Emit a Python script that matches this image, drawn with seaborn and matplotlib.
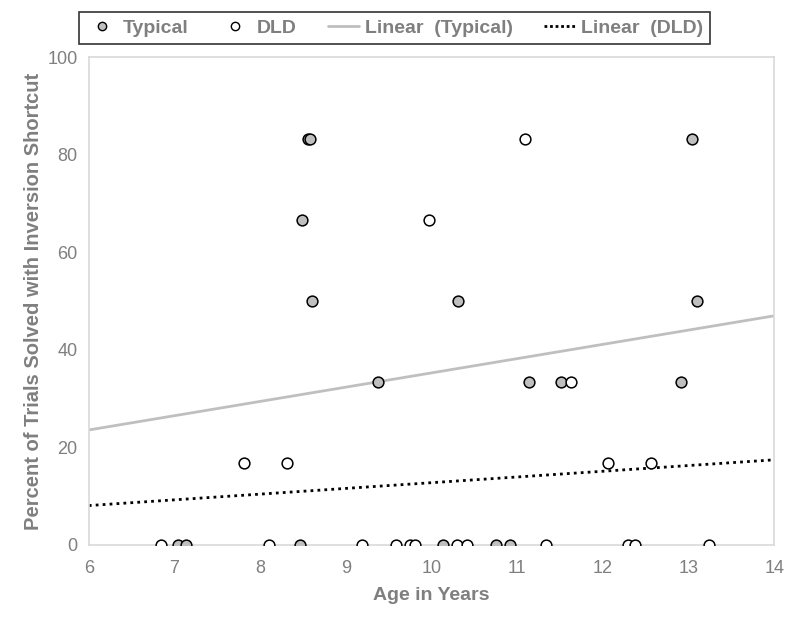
import numpy as np
import pandas as pd
import matplotlib
matplotlib.use("Agg")
import matplotlib.pyplot as plt
import seaborn as sns
from matplotlib.lines import Line2D

# ─────────────────────────────────────────────
# Data
# ─────────────────────────────────────────────
typical_age = [7.04, 7.14, 8.47, 10.13, 10.75, 10.92,
               8.56, 8.58, 13.04,
               8.49,
               8.60, 10.31, 13.10,
               9.38, 11.14, 11.51, 12.91]
typical_pct = [0, 0, 0, 0, 0, 0,
               83.3, 83.3, 83.3,
               66.7,
               50, 50, 50,
               33.3, 33.3, 33.3, 33.3]

dld_age = [6.84, 8.10, 9.19, 9.58, 9.75, 9.81, 10.30, 10.41, 11.34, 12.29, 12.37, 13.24,
           7.81, 8.31, 12.06, 12.56,
           11.63,
           9.97,
           11.09]
dld_pct = [0] * 12 + [16.7] * 4 + [33.3, 66.7, 83.3]

x_ticks = [6, 7, 8, 9, 10, 11, 12, 13, 14]
y_ticks = [0, 20, 40, 60, 80, 100]

typical = pd.DataFrame({"age": typical_age, "pct": typical_pct})
dld = pd.DataFrame({"age": dld_age, "pct": dld_pct})

GRAY_TXT = "#7f7f7f"
FILL = "#bfbfbf"

sns.set_style("white")
plt.rcParams["font.family"] = ["Liberation Sans", "DejaVu Sans"]

fig = plt.figure(figsize=(8, 6.22), dpi=100)
ax = fig.add_axes([0.111, 0.124, 0.857, 0.784])
ax.set_xlim(6, 14)
ax.set_ylim(0, 100)

# trend lines (fit over full axis range)
sns.regplot(data=typical, x="age", y="pct", ax=ax, ci=None, truncate=False,
            scatter=False, line_kws=dict(color="#bfbfbf", lw=2, zorder=1))
sns.regplot(data=dld, x="age", y="pct", ax=ax, ci=None, truncate=False,
            scatter=False, line_kws=dict(color="black", lw=2, ls=(0, (1, 1.5)), zorder=1))

sns.scatterplot(data=typical, x="age", y="pct", ax=ax, color=FILL,
                edgecolor="black", linewidth=1.1, s=60, zorder=3)
sns.scatterplot(data=dld, x="age", y="pct", ax=ax, color="white",
                edgecolor="black", linewidth=1.1, s=60, zorder=3)

ax.set_xlim(6, 14)
ax.set_ylim(0, 100)
ax.set_xticks(x_ticks)
ax.set_yticks(y_ticks)
ax.tick_params(axis="both", length=0, labelsize=13, labelcolor=GRAY_TXT)
ax.tick_params(axis="x", pad=11)
ax.tick_params(axis="y", pad=8)
for sp in ax.spines.values():
    sp.set_color("#d9d9d9")
    sp.set_linewidth(1.2)

ax.set_xlabel("Age in Years", fontsize=14, fontweight="bold", color=GRAY_TXT, labelpad=7)
ax.set_ylabel("Percent of Trials Solved with Inversion Shortcut", fontsize=14.5,
              fontweight="bold", color=GRAY_TXT, labelpad=3)

handles = [
    Line2D([], [], ls="none", marker="o", markersize=6, markerfacecolor=FILL,
           markeredgecolor="black", markeredgewidth=1),
    Line2D([], [], ls="none", marker="o", markersize=6, markerfacecolor="white",
           markeredgecolor="black", markeredgewidth=1),
    Line2D([], [], color="#bfbfbf", lw=2),
    Line2D([], [], color="black", lw=2, ls=(0, (1, 1))),
]
labels = ["Typical", "DLD", "Linear  (Typical)", "Linear  (DLD)"]
leg = fig.legend(handles, labels, loc="center", bbox_to_anchor=(0.493, 0.955), ncol=4,
                 frameon=True, fancybox=False, edgecolor="black", handlelength=1.6,
                 handletextpad=0.3, columnspacing=1.6, borderpad=0.35,
                 prop=dict(family="Liberation Sans", weight="bold", size=14))
leg.get_frame().set_linewidth(1.2)
for t in leg.get_texts():
    t.set_color(GRAY_TXT)

fig.savefig("out.png", dpi=100)
